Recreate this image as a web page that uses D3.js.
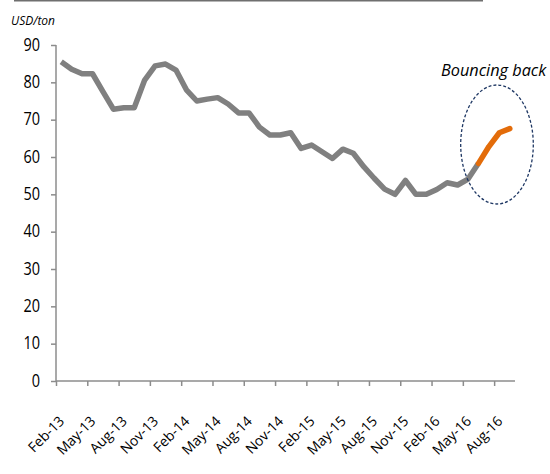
<!DOCTYPE html>
<html><head><meta charset="utf-8">
<script src="https://cdn.jsdelivr.net/npm/d3@7/dist/d3.min.js"></script>
<style>
body{margin:0;background:#fff;}
svg{display:block;}
</style></head><body>
<svg id="c" width="550" height="474"></svg>
<script>
const months = ["Feb-13","Mar-13","Apr-13","May-13","Jun-13","Jul-13","Aug-13","Sep-13","Oct-13","Nov-13","Dec-13",
"Jan-14","Feb-14","Mar-14","Apr-14","May-14","Jun-14","Jul-14","Aug-14","Sep-14","Oct-14","Nov-14","Dec-14",
"Jan-15","Feb-15","Mar-15","Apr-15","May-15","Jun-15","Jul-15","Aug-15","Sep-15","Oct-15","Nov-15","Dec-15",
"Jan-16","Feb-16","Mar-16","Apr-16","May-16","Jun-16","Jul-16","Aug-16","Sep-16"];
const prices = [85.5,83.5,82.3,82.3,77.5,72.8,73.2,73.2,80.6,84.4,84.9,
83.3,78.0,75.0,75.5,75.9,74.2,71.8,71.8,68.0,65.9,65.9,66.5,
62.3,63.2,61.4,59.6,62.1,61.0,57.4,54.3,51.4,50.0,53.7,50.0,
50.0,51.3,53.1,52.5,54.1,58.3,62.8,66.5,67.6];
const reboundStart = "Jun-16";
const yTicks = [0,10,20,30,40,50,60,70,80,90];
const xLabelEvery = 3;
const unitLabel = "USD/ton";
const annotation = "Bouncing back";

const svg = d3.select("#c");
const x = d3.scaleBand().domain(months).range([56,515]).padding(0);
const xi = d3.scaleLinear().domain([0, months.length]).range([56,515]);
const y = d3.scaleLinear().domain([0,90]).range([381,45]);
const axisColor = "#8c8c8c";
const font = "'Open Sans',sans-serif";

// top rule
svg.append("line").attr("x1",14).attr("x2",483).attr("y1",0.5).attr("y2",0.5)
  .attr("stroke","#6f6f6f").attr("stroke-width",2);

// y axis
const ya = svg.append("g").attr("transform","translate(56,0)")
  .call(d3.axisLeft(y).tickValues(yTicks).tickSize(5).tickPadding(11).tickFormat(d3.format("d")));
ya.attr("font-family",font);
ya.selectAll("path,line").attr("stroke",axisColor).attr("stroke-width",1.5);
ya.select(".domain").attr("d","M0,45V381");
ya.selectAll("text").attr("font-size",14.5).attr("fill","#000")
  .attr("transform","scale(1,1.25)").attr("x",-16).attr("dy","0.28em");

// x axis
const tickIdx = d3.range(0, months.length, xLabelEvery);
const xa = svg.append("g").attr("transform","translate(0,381)")
  .call(d3.axisBottom(xi).tickValues(tickIdx).tickSize(5).tickFormat(""));
xa.selectAll("path,line").attr("stroke",axisColor).attr("stroke-width",1.5);
xa.select(".domain").attr("d","M56,0H515");

svg.append("g").attr("font-family",font).selectAll("text").data(tickIdx).join("text")
  .attr("transform", i => `translate(${x(months[i]) + x.bandwidth()/2 + 4},${422}) rotate(-45)`)
  .attr("text-anchor","end")
  .attr("font-size",14).attr("fill","#000")
  .text(i => months[i]);

// line
const pts = months.map((m,i)=>({m, v:prices[i], i}));
const line = d3.line().x(d=>x(d.m)+x.bandwidth()/2).y(d=>y(d.v));
const k = months.indexOf(reboundStart);
svg.append("path").datum(pts.slice(0,k+1)).attr("d",line)
  .attr("fill","none").attr("stroke","#808080").attr("stroke-width",5.5).attr("stroke-linejoin","round");
svg.append("path").datum(pts.slice(k)).attr("d",line)
  .attr("fill","none").attr("stroke","#e36c0a").attr("stroke-width",5.5).attr("stroke-linejoin","round").attr("stroke-linecap","round");

// ellipse
svg.append("ellipse").attr("cx",497).attr("cy",144.5).attr("rx",36.3).attr("ry",59.5)
  .attr("fill","none").attr("stroke","#1f3864").attr("stroke-width",1.3).attr("stroke-dasharray","3,2");

// texts
svg.append("text").attr("x",11).attr("y",25).attr("font-size",12).attr("font-style","italic")
  .attr("font-family",font).attr("fill","#000").text(unitLabel);
svg.append("text").attr("x",441).attr("y",76).attr("font-size",16.3).attr("font-style","italic")
  .attr("font-family",font).attr("fill","#000").text(annotation);
</script></body></html>
